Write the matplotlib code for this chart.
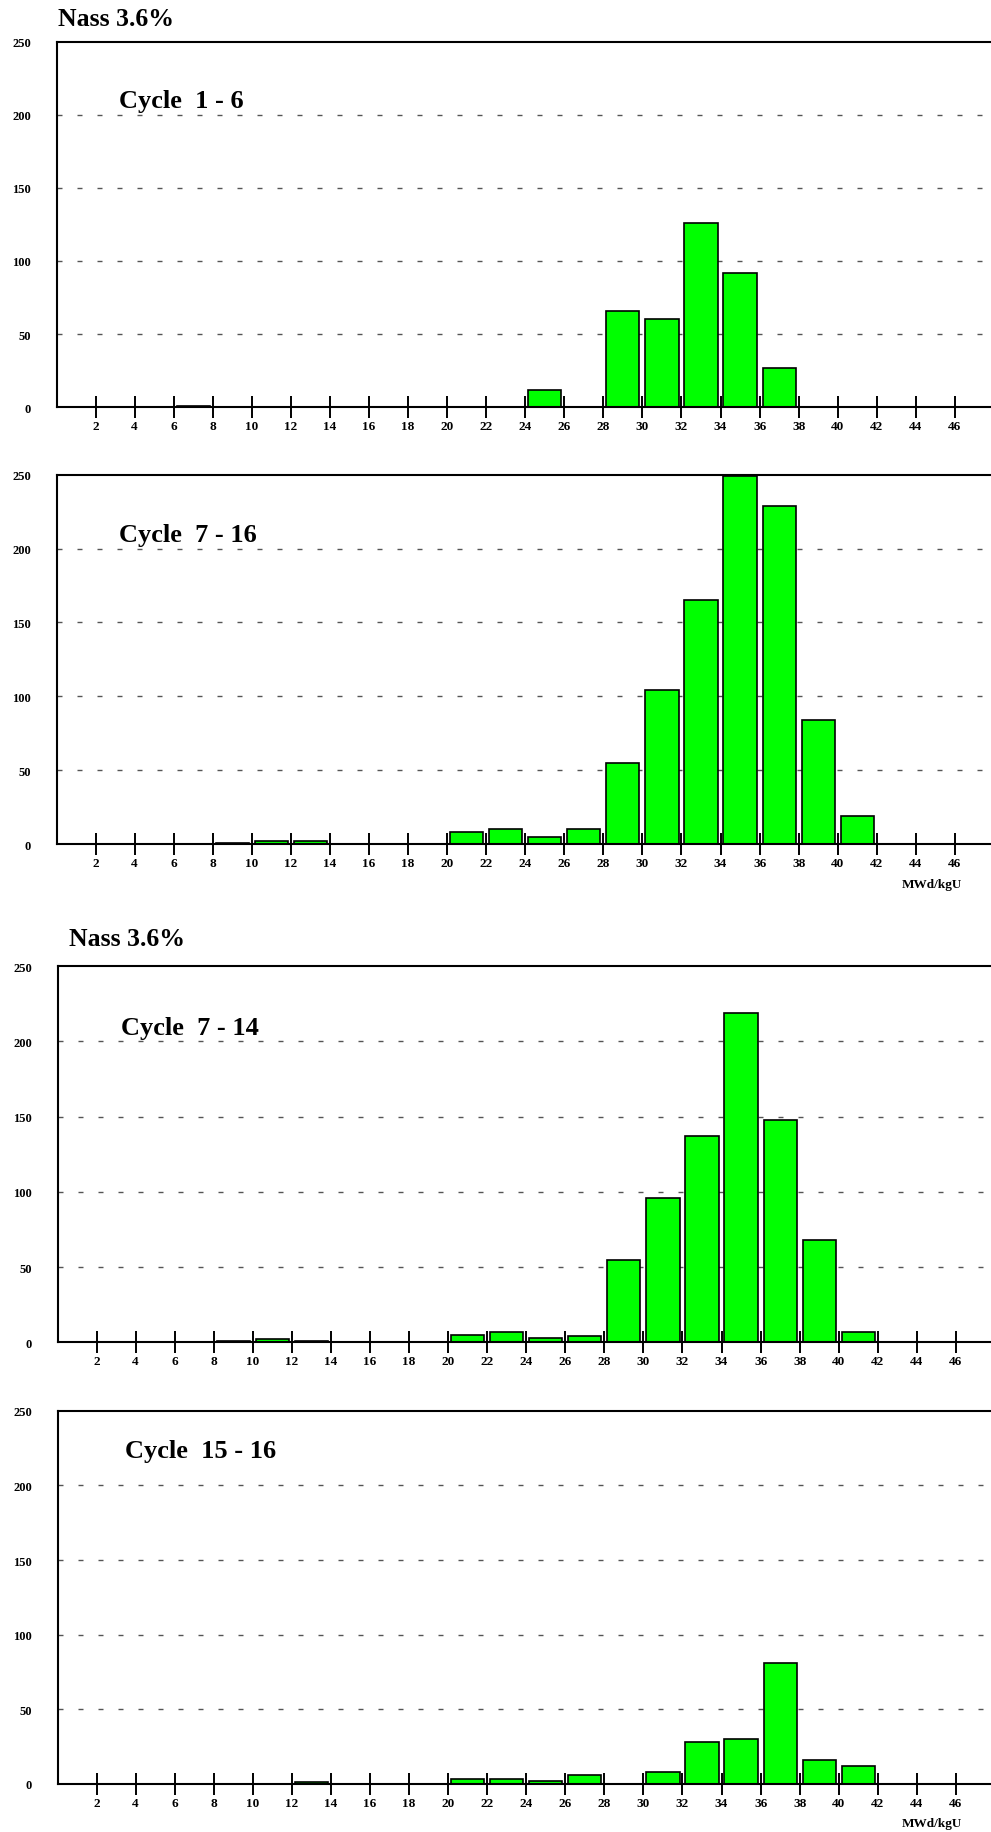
import numpy as np
import matplotlib
matplotlib.use("Agg")
import matplotlib.pyplot as plt

# centres des classes de taux de combustion (MWd/kgU), pas de 2
centres = [1, 3, 5, 7, 9, 11, 13, 15, 17, 19, 21, 23, 25, 27, 29, 31, 33, 35, 37, 39, 41, 43, 45, 47]

# nombre d'assemblages par classe
cycle_1_6 = [0, 0, 0, 1, 0, 0, 0, 0, 0, 0, 0, 0, 12, 0, 66, 60, 126, 92, 27, 0, 0, 0, 0, 0]
cycle_7_16 = [0, 0, 0, 0, 1, 2, 2, 0, 0, 0, 8, 10, 5, 10, 55, 104, 165, 249, 229, 84, 19, 0, 0, 0]
cycle_7_14 = [0, 0, 0, 0, 1, 2, 1, 0, 0, 0, 5, 7, 3, 4, 55, 96, 137, 219, 148, 68, 7, 0, 0, 0]
cycle_15_16 = [0, 0, 0, 0, 0, 0, 1, 0, 0, 0, 3, 3, 2, 6, 0, 8, 28, 30, 81, 16, 12, 0, 0, 0]

xticks = list(range(2, 48, 2))
yticks = [0, 50, 100, 150, 200, 250]

panneaux = [
    ("Cycle  1 - 6", cycle_1_6, [0.058, 0.7773, 0.945, 0.1995], (3.2, 205)),
    ("Cycle  7 - 16", cycle_7_16, [0.058, 0.5390, 0.945, 0.2015], (3.2, 205)),
    ("Cycle  7 - 14", cycle_7_14, [0.059, 0.2672, 0.945, 0.2051], (3.25, 205)),
    ("Cycle  15 - 16", cycle_15_16, [0.059, 0.0262, 0.945, 0.2036], (3.45, 219)),
]

police = ["Liberation Serif", "DejaVu Serif"]

fig = plt.figure(figsize=(9.91, 18.33), dpi=100)

for titre, valeurs, pos, (tx, ty) in panneaux:
    ax = fig.add_axes(pos)
    ax.bar(centres, valeurs, width=1.7, color="#00ff00", edgecolor="black",
           linewidth=1.2, zorder=2)
    ax.set_xlim(0.05, 48.0)
    ax.set_ylim(0, 250)
    for v in [50, 100, 150, 200]:
        ax.axhline(v, color="#555555", linewidth=1.0, linestyle=(0, (3.6, 10.8)), zorder=1)
    ax.set_xticks(xticks)
    ax.set_xticklabels([str(t) for t in xticks], fontfamily=police,
                       fontweight="bold", fontsize=9.5)
    ax.set_yticks(yticks)
    ax.set_yticklabels([str(t) for t in yticks], fontfamily=police,
                       fontweight="bold", fontsize=9)
    ax.tick_params(axis="x", direction="inout", length=16.5, width=1.4, pad=1)
    ax.tick_params(axis="y", length=0, pad=19)
    for s in ["left", "bottom", "top"]:
        ax.spines[s].set_linewidth(1.5)
    ax.spines["right"].set_visible(False)
    ax.text(tx, ty, titre, fontfamily=police, fontweight="bold", fontsize=19,
            va="baseline", ha="left")

# titres et unités
fig.text(0.059, 1 - 8 / 1833, "Nass 3.6%", fontfamily=police, fontweight="bold",
         fontsize=18.5, va="top", ha="left")
fig.text(0.070, 1 - 928 / 1833, "Nass 3.6%", fontfamily=police, fontweight="bold",
         fontsize=18.5, va="top", ha="left")
fig.text(932 / 991, 1 - 885 / 1833, "MWd/kgU", fontfamily=police, fontweight="bold",
         fontsize=9.5, va="center", ha="center")
fig.text(932 / 991, 1 - 1824 / 1833, "MWd/kgU", fontfamily=police, fontweight="bold",
         fontsize=9.5, va="center", ha="center")

fig.savefig("out.png", dpi=100)
